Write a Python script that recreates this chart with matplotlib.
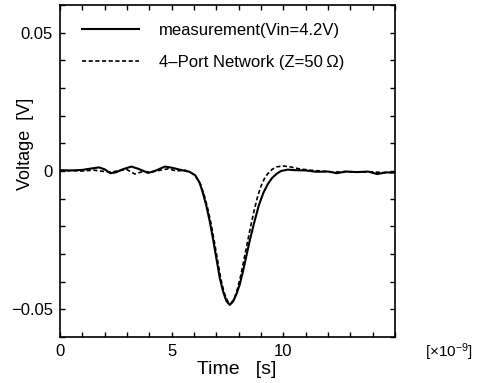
import matplotlib
matplotlib.use("Agg")
import matplotlib.pyplot as plt
from matplotlib.ticker import MultipleLocator

plt.rcParams["font.family"] = ["Liberation Sans", "DejaVu Sans"]
plt.rcParams["mathtext.default"] = "regular"

# measured waveform, time in ns, voltage in V
meas_t = [0.0, 0.5, 1.0, 1.4, 1.75, 2.0, 2.25, 2.5, 2.8, 3.2, 3.5, 3.95, 4.3, 4.7,
          5.0, 5.4, 5.8, 6.05, 6.25, 6.4, 6.55, 6.7, 6.85, 7.0, 7.15, 7.3, 7.45,
          7.6, 7.75, 7.9, 8.05, 8.2, 8.35, 8.5, 8.7, 8.9, 9.1, 9.3, 9.5, 9.7, 9.9,
          10.2, 10.5, 11.0, 11.5, 12.0, 12.4, 12.8, 13.3, 13.8, 14.2, 14.6, 15.0]
meas_v = [0.0003, 0.0002, 0.0004, 0.0009, 0.0013, 0.0006, -0.0008, -0.0005, 0.0006,
          0.0016, 0.0008, -0.0007, 0.0002, 0.0016, 0.0012, 0.0004, -0.0003, -0.0015,
          -0.0042, -0.0080, -0.0125, -0.0180, -0.0245, -0.0315, -0.0385, -0.0435,
          -0.0470, -0.0484, -0.0472, -0.0445, -0.0410, -0.0360, -0.0305, -0.0250,
          -0.0185, -0.0125, -0.0080, -0.0048, -0.0025, -0.0010, 0.0000, 0.0005,
          0.0003, 0.0002, -0.0003, -0.0002, -0.0008, -0.0002, -0.0004, -0.0002,
          -0.0011, -0.0005, -0.0006]

# simulated waveform (4-port network model)
sim_t = [0.0, 0.5, 1.0, 1.5, 1.9, 2.3, 2.7, 3.0, 3.35, 3.7, 4.1, 4.5, 4.85, 5.2,
         5.6, 5.9, 6.1, 6.3, 6.45, 6.6, 6.75, 6.9, 7.05, 7.2, 7.35, 7.5, 7.65,
         7.8, 7.95, 8.1, 8.25, 8.4, 8.55, 8.7, 8.85, 9.0, 9.15, 9.3, 9.5, 9.7,
         10.0, 10.3, 10.7, 11.2, 11.8, 12.3, 12.8, 13.4, 14.0, 14.5, 15.0]
sim_v = [0.0, 0.0001, 0.0, 0.0003, -0.0001, -0.0004, 0.0002, 0.0005, -0.0011,
         -0.0002, -0.0004, 0.0003, 0.0008, 0.0, 0.0003, -0.0008, -0.0022, -0.0050,
         -0.0085, -0.0130, -0.0185, -0.0250, -0.0320, -0.0390, -0.0440, -0.0470,
         -0.0478, -0.0462, -0.0425, -0.0375, -0.0315, -0.0255, -0.0195, -0.0140,
         -0.0092, -0.0055, -0.0028, -0.0010, 0.0006, 0.0015, 0.0018, 0.0015,
         0.0008, 0.0003, -0.0001, -0.0004, -0.0002, -0.0004, -0.0003, -0.0006,
         -0.0005]

fig = plt.figure(figsize=(4.79, 3.83), dpi=100)
ax = fig.add_axes([0.1253, 0.1201, 0.6993, 0.8669])

ax.plot(meas_t, meas_v, color="black", linewidth=1.5, label="measurement(Vin=4.2V)")
ax.plot(sim_t, sim_v, color="black", linewidth=1.2, linestyle=(0, (2.5, 1.5)),
        label="4\u2013Port Network (Z=50\u2009\u03a9)")

ax.set_xlim(0, 15)
ax.set_ylim(-0.06, 0.06)
ax.xaxis.set_minor_locator(MultipleLocator(1))
ax.yaxis.set_minor_locator(MultipleLocator(0.01))
ax.set_xticks([0, 5, 10])
ax.set_xticklabels(["0", "5", "10"])
ax.set_yticks([-0.05, 0, 0.05])
ax.set_yticklabels(["\u22120.05", "0", "0.05"])
ax.tick_params(which="both", direction="in", top=True, right=True,
               length=3.5, width=1, labelsize=12, pad=5)
for s in ax.spines.values():
    s.set_linewidth(1.2)

ax.legend(loc="upper left", bbox_to_anchor=(0.066, 0.945), frameon=False,
          fontsize=12, handlelength=3.4, handletextpad=1.2, labelspacing=1.0,
          borderpad=0, borderaxespad=0)

fig.text(237 / 479, 1 - 369 / 383, "Time   [s]", fontsize=14, ha="center", va="center")
fig.text(26 / 479, 1 - 144 / 383, "Voltage  [V]", fontsize=13, ha="center",
         va="center", rotation=90)
fig.text(449 / 479, 1 - 352 / 383, r"[$\times$10$^{-9}$]", fontsize=11,
         ha="center", va="center")

fig.savefig("out.png", dpi=100)
